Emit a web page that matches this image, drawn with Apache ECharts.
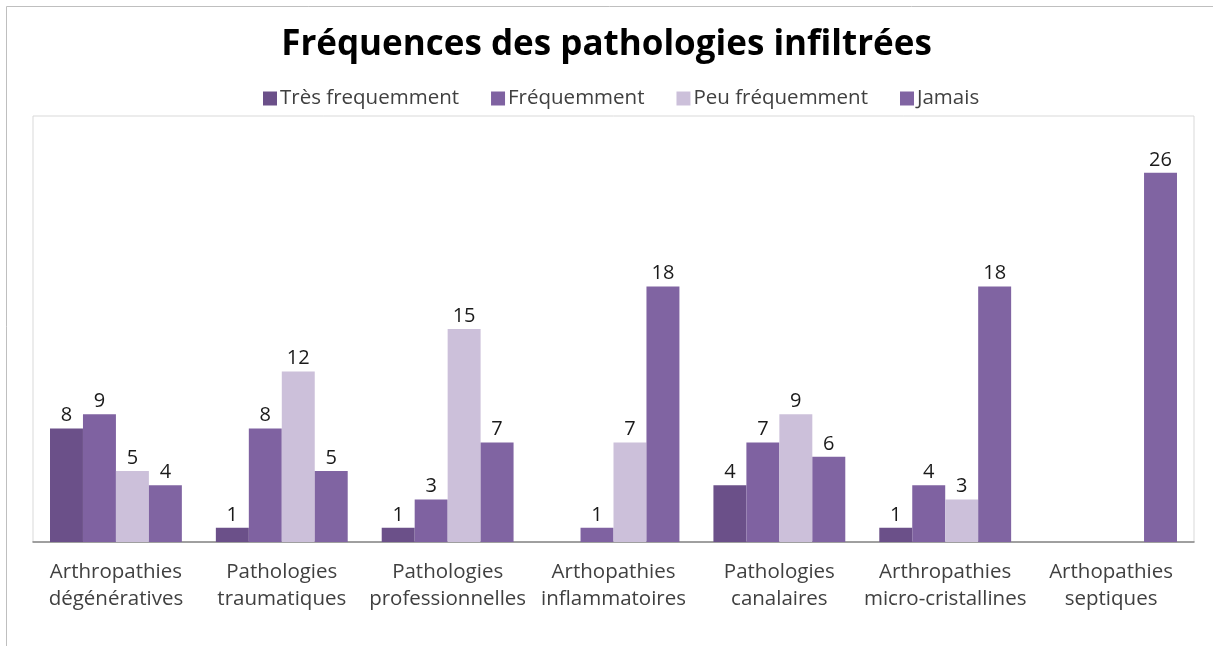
<!DOCTYPE html>
<html><head><meta charset="utf-8">
<script src="https://cdn.jsdelivr.net/npm/echarts@6/dist/echarts.min.js"></script>
<style>html,body{margin:0;padding:0;background:#fff}#c{width:1213px;height:646px}</style>
</head><body><div id="c"></div>
<script>
const categories = ["Arthropathies\ndégénératives","Pathologies\ntraumatiques","Pathologies\nprofessionnelles","Arthopathies\ninflammatoires","Pathologies\ncanalaires","Arthropathies\nmicro-cristallines","Arthopathies\nseptiques"];
const seriesNames = ["Très frequemment","Fréquemment","Peu fréquemment","Jamais"];
const tresFrequemment = [8, 1, 1, null, 4, 1, null];
const frequemment = [9, 8, 3, 1, 7, 4, null];
const peuFrequemment = [5, 12, 15, 7, 9, 3, null];
const jamais = [4, 5, 7, 18, 6, 18, 26];
const colors = ["#6b5089","#7f62a1","#ccc0da","#8064a2"];
const font = "'Open Sans', sans-serif";
const values = [tresFrequemment, frequemment, peuFrequemment, jamais];
const chart = echarts.init(document.getElementById('c'));
chart.setOption({
  animation:false,
  textStyle:{fontFamily:font},
  title:{text:"Fréquences des pathologies infiltrées",left:'center',top:23,
    textStyle:{fontFamily:font,fontSize:35,fontWeight:'bold',color:'#000'}},
  legend:{top:83,left:258,itemWidth:14,itemHeight:14,itemGap:32,icon:'rect',
    textStyle:{fontFamily:font,fontSize:20.5,color:'#404040',padding:[0,0,0,-2]}},
  graphic:[{type:'polyline',shape:{points:[[6.5,646],[6.5,6.5],[1213,6.5]]},style:{stroke:'#bfbfbf',lineWidth:1,fill:null}}],
  grid:{left:33,right:19,top:116,bottom:104,show:true,borderColor:'#d9d9d9',borderWidth:1},
  xAxis:{type:'category',data:categories,
    axisLine:{lineStyle:{color:'#868686',width:1.5}},axisTick:{show:false},
    axisLabel:{fontFamily:font,fontSize:20.5,color:'#404040',margin:17,lineHeight:27,interval:0}},
  yAxis:{type:'value',min:0,max:30,show:false,splitLine:{show:false}},
  series: seriesNames.map((n,i)=>({
    name:n,type:'bar',data:values[i],barGap:'0%',barCategoryGap:'20.5%',
    itemStyle:{color:colors[i]},
    label:{show:true,position:'top',distance:3,fontFamily:font,fontSize:20,color:'#1a1a1a'}
  }))
});
</script></body></html>
